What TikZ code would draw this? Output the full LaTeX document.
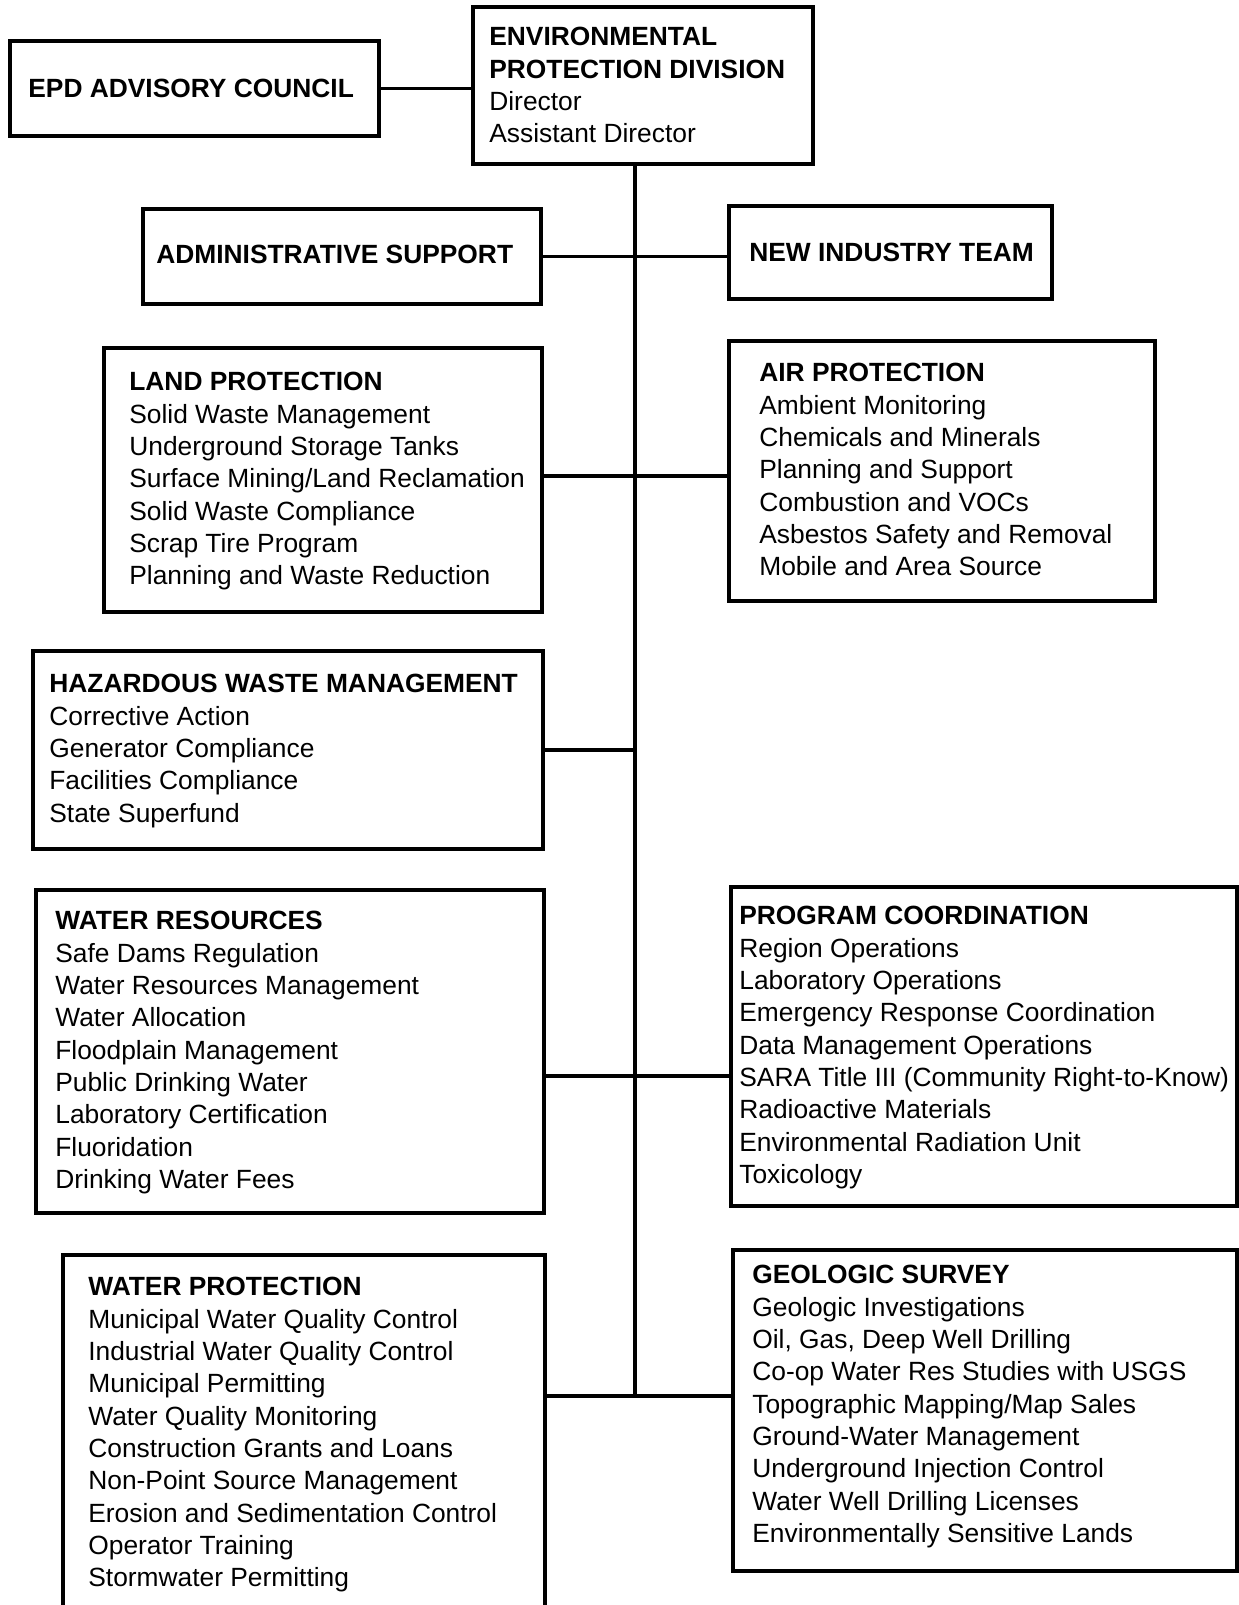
\documentclass[tikz,border=0pt]{standalone}
\usepackage{fontspec}
\setmainfont{Liberation Sans}
\usetikzlibrary{positioning, fit}

\begin{document}
\begin{tikzpicture}[
  x=0.02cm, y=-0.02cm,
  unit/.style={
    rectangle,
    draw,
    line width=1.8pt,
    inner sep=0pt,
    outer sep=0pt
  },
  txt/.style={
    inner sep=0pt,
    align=left,
    font=\fontsize{15}{18.4}\selectfont
  },
  link/.style={line width=1.8pt}
]
\useasboundingbox (0,0) rectangle (1239,1605);

% Boxes (top to bottom, left then right)
\node[unit, fit={(10,41) (379,136)}] (council) {};
\node[unit, fit={(473,7) (813,164)}] (epd) {};
\node[unit, fit={(143,209) (541,304)}] (admin) {};
\node[unit, fit={(729,206) (1052,299)}] (newind) {};
\node[unit, fit={(104,348) (542,612)}] (land) {};
\node[unit, fit={(729,341) (1155,601)}] (air) {};
\node[unit, fit={(33,651) (543,849)}] (haz) {};
\node[unit, fit={(36,890) (544,1213)}] (wres) {};
\node[unit, fit={(731,887) (1237,1206)}] (prog) {};
\node[unit, fit={(63,1255) (545,1640)}] (wprot) {};
\node[unit, fit={(733,1250) (1237,1571)}] (geo) {};

% Texts
\node[txt, below right=0.4cm and 0.32cm of epd.north west] (epd-t) {\textbf{ENVIRONMENTAL}\\ \textbf{PROTECTION DIVISION}\\ Director\\ Assistant Director};
\node[txt, below right=0.76cm and 0.36cm of council.north west] (council-t) {\textbf{EPD ADVISORY COUNCIL}};
\node[txt, below right=0.72cm and 0.26cm of admin.north west] (admin-t) {\textbf{ADMINISTRATIVE SUPPORT}};
\node[txt, below right=0.74cm and 0.4cm of newind.north west] (newind-t) {\textbf{NEW INDUSTRY TEAM}};
\node[txt, below right=0.48cm and 0.5cm of land.north west] (land-t) {\textbf{LAND PROTECTION}\\ Solid Waste Management\\ Underground Storage Tanks\\ Surface Mining/Land Reclamation\\ Solid Waste Compliance\\ Scrap Tire Program\\ Planning and Waste Reduction};
\node[txt, below right=0.44cm and 0.6cm of air.north west] (air-t) {\textbf{AIR PROTECTION}\\ Ambient Monitoring\\ Chemicals and Minerals\\ Planning and Support\\ Combustion and VOCs\\ Asbestos Safety and Removal\\ Mobile and Area Source};
\node[txt, below right=0.46cm and 0.32cm of haz.north west] (haz-t) {\textbf{HAZARDOUS WASTE MANAGEMENT}\\ Corrective Action\\ Generator Compliance\\ Facilities Compliance\\ State Superfund};
\node[txt, below right=0.42cm and 0.38cm of wres.north west] (wres-t) {\textbf{WATER RESOURCES}\\ Safe Dams Regulation\\ Water Resources Management\\ Water Allocation\\ Floodplain Management\\ Public Drinking Water\\ Laboratory Certification\\ Fluoridation\\ Drinking Water Fees};
\node[txt, below right=0.38cm and 0.16cm of prog.north west] (prog-t) {\textbf{PROGRAM COORDINATION}\\ Region Operations\\ Laboratory Operations\\ Emergency Response Coordination\\ Data Management Operations\\ SARA Title III (Community Right-to-Know)\\ Radioactive Materials\\ Environmental Radiation Unit\\ Toxicology};
\node[txt, below right=0.44cm and 0.5cm of wprot.north west] (wprot-t) {\textbf{WATER PROTECTION}\\ Municipal Water Quality Control\\ Industrial Water Quality Control\\ Municipal Permitting\\ Water Quality Monitoring\\ Construction Grants and Loans\\ Non-Point Source Management\\ Erosion and Sedimentation Control\\ Operator Training\\ Stormwater Permitting};
\node[txt, below right=0.3cm and 0.38cm of geo.north west] (geo-t) {\textbf{GEOLOGIC SURVEY}\\ Geologic Investigations\\ Oil, Gas, Deep Well Drilling\\ Co-op Water Res Studies with USGS\\ Topographic Mapping/Map Sales\\ Ground-Water Management\\ Underground Injection Control\\ Water Well Drilling Licenses\\ Environmentally Sensitive Lands};

% Connectors
\coordinate (spine) at (635,1396);
\coordinate (land-link) at (635,476);
\coordinate (wres-link) at (635,1076);
\draw[link] (council.east) -- (council.east -| epd.west);
\draw[link] (spine |- epd.south) -- (spine);
\draw[link] (admin.east) -- (admin.east -| newind.west);
\draw[link] (land.east |- land-link) -- (air.west |- land-link);
\draw[link] (haz.east) -- (haz.east -| spine);
\draw[link] (wres.east |- wres-link) -- (prog.west |- wres-link);
\draw[link] (wprot.east |- spine) -- (geo.west |- spine);

\end{tikzpicture}
\end{document}
